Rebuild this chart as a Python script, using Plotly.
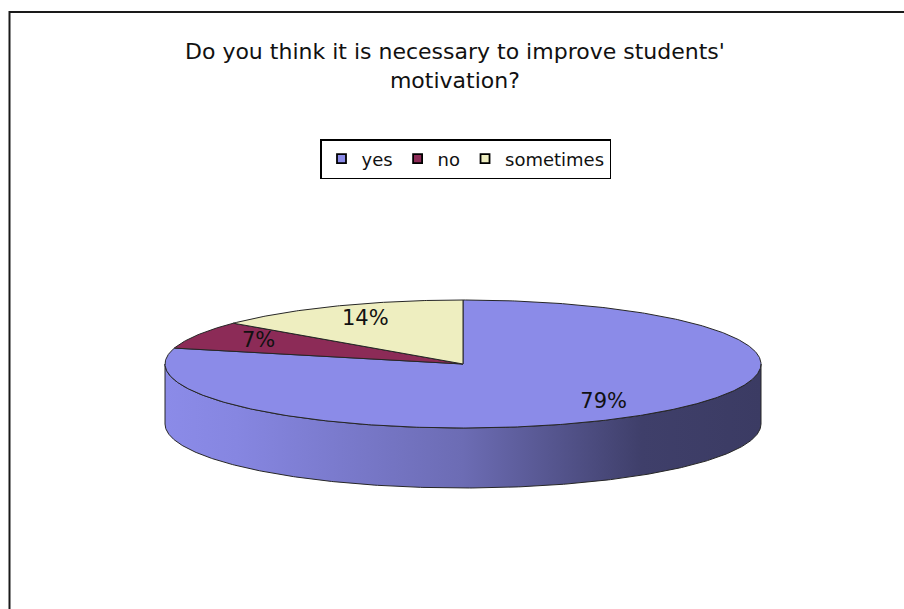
import numpy as np
import plotly.graph_objects as go

# Survey answers
categories = ["yes", "no", "sometimes"]
shares = [79, 7, 14]
top_colors = ["#8B8BE8", "#8C2B57", "#EEEEC0"]

title_text = "Do you think it is necessary to improve students'<br>motivation?"

# Canvas and disc geometry (pixel-like units on hidden axes)
W, H = 904, 609
CX, CY = 463, 364
RX, RY = 298, 64
DEPTH = 60
EDGE = "#262626"
LABEL_R = 0.77
FONT = "DejaVu Sans"


def rim(theta_deg, dy=0.0):
    """Point on the tilted rim, angle measured clockwise from 12 o'clock."""
    t = np.radians(theta_deg)
    return CX + RX * np.sin(t), CY - RY * np.cos(t) + dy


def shade(hex_color, k):
    h = hex_color.lstrip("#")
    r, g, b = (int(h[i:i + 2], 16) for i in (0, 2, 4))
    return "rgb(%d,%d,%d)" % (r * k, g * k, b * k)


fig = go.Figure()

total = float(sum(shares))
bounds = np.concatenate([[0.0], np.cumsum(shares)]) / total * 360.0

# Side wall: only the front half of the rim (90..270 deg) is visible
for (a0, a1), col in zip(zip(bounds[:-1], bounds[1:]), top_colors):
    lo, hi = max(a0, 90.0), min(a1, 270.0)
    if hi <= lo:
        continue
    th = np.linspace(lo, hi, int((hi - lo) * 2) + 2)
    xt, yt = rim(th)
    xb, yb = rim(th[::-1], DEPTH)
    xs = np.concatenate([xt, xb, xt[:1]])
    ys = np.concatenate([yt, yb, yt[:1]])
    fig.add_trace(go.Scatter(
        x=xs, y=ys, mode="lines", fill="toself",
        line=dict(color=EDGE, width=1),
        fillgradient=dict(
            type="horizontal",
            colorscale=[[0.0, shade(col, 1.0)], [0.12, shade(col, 0.97)],
                        [0.5, shade(col, 0.78)], [0.8, shade(col, 0.46)],
                        [1.0, shade(col, 0.43)]],
            start=CX - RX, stop=CX + RX),
        showlegend=False, hoverinfo="skip"))

# Top face slices
lx, ly, ltxt = [], [], []
for (a0, a1), col, v in zip(zip(bounds[:-1], bounds[1:]), top_colors, shares):
    th = np.linspace(a0, a1, int((a1 - a0) * 2) + 2)
    x, y = rim(th)
    fig.add_trace(go.Scatter(
        x=np.concatenate([[CX], x, [CX]]),
        y=np.concatenate([[CY], y, [CY]]),
        mode="lines", fill="toself", fillcolor=col,
        line=dict(color=EDGE, width=1),
        showlegend=False, hoverinfo="skip"))
    mid = np.radians((a0 + a1) / 2)
    lx.append(CX + LABEL_R * RX * np.sin(mid))
    ly.append(CY - LABEL_R * RY * np.cos(mid))
    ltxt.append(f"{v}%")

fig.add_trace(go.Scatter(
    x=lx, y=ly, mode="text", text=ltxt, textposition="middle center",
    textfont=dict(family=FONT, size=21, color="#111111"),
    showlegend=False, hoverinfo="skip"))

# Legend entries
for name, col in zip(categories, top_colors):
    fig.add_trace(go.Scatter(
        x=[None], y=[None], mode="markers", name=name,
        marker=dict(symbol="square", size=9, color=col,
                    line=dict(color="black", width=1.8))))

fig.update_layout(
    width=W, height=H,
    margin=dict(l=0, r=0, t=0, b=0),
    paper_bgcolor="white", plot_bgcolor="white",
    xaxis=dict(range=[0, W], visible=False, fixedrange=True),
    yaxis=dict(range=[H, 0], visible=False, fixedrange=True),
    showlegend=True,
    legend=dict(orientation="h", x=465.5 / W, y=1 - 139 / H,
                xanchor="center", yanchor="top",
                bordercolor="black", borderwidth=1.5, bgcolor="white",
                font=dict(family=FONT, size=18, color="#111111"),
                itemwidth=30),
    shapes=[dict(type="rect", xref="x", yref="y", x0=9.5, y0=12,
                 x1=W + 20, y1=H + 20, layer="below",
                 line=dict(color="#1a1a1a", width=2),
                 fillcolor="rgba(0,0,0,0)")],
    annotations=[dict(text=title_text, x=455, y=66, xref="x", yref="y",
                      showarrow=False, align="center",
                      font=dict(family=FONT, size=22, color="#111111"))],
)

fig.write_html("out.html")
